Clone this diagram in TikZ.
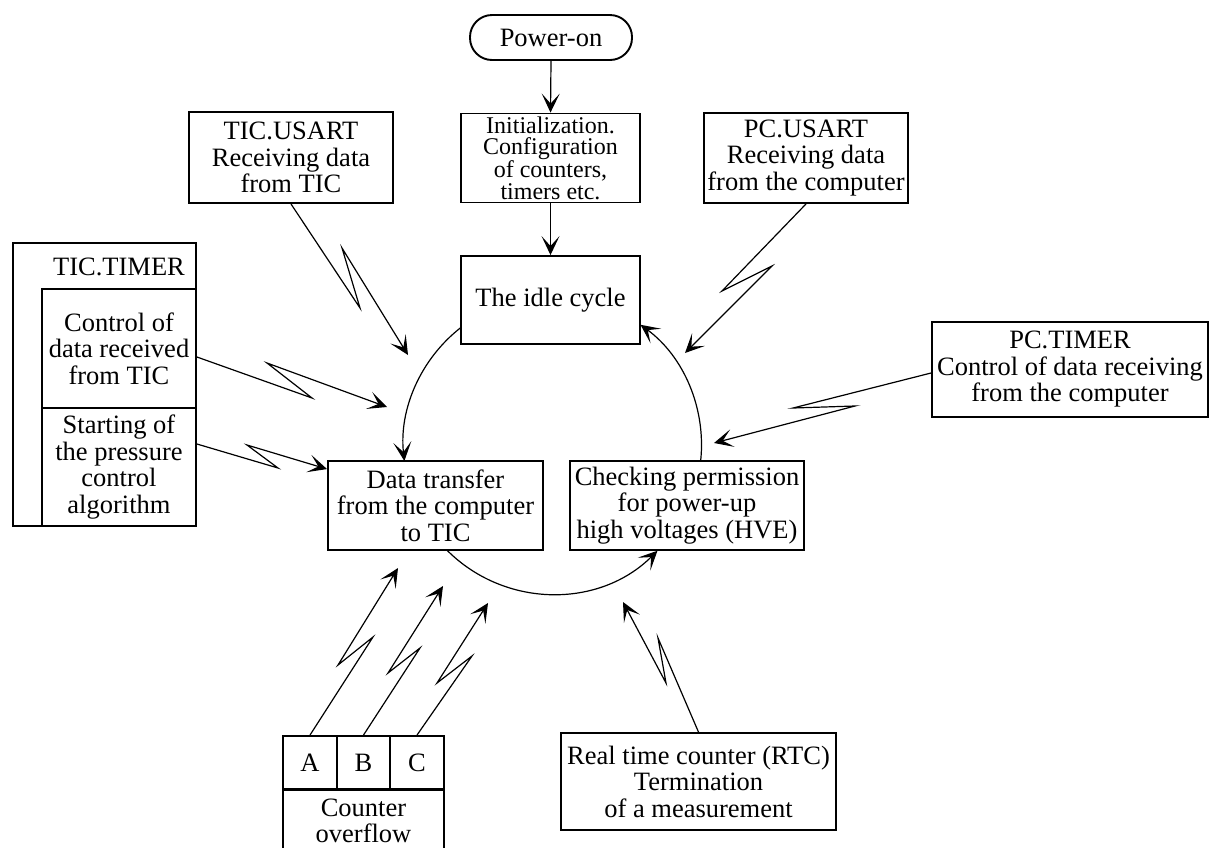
\documentclass[tikz,border=0pt]{standalone}
\usepackage{fontspec}
\setmainfont{Liberation Serif}
\usetikzlibrary{arrows.meta,calc}
\newcommand\diagfont{\fontsize{26.5}{26.5}\selectfont}
\newcommand\tightfont{\fontsize{24}{21.6}\selectfont}
\begin{document}
\begin{tikzpicture}[x=1pt,y=-1pt,
  box/.style={draw, line width=1.9pt, inner sep=0pt, align=center, font=\diagfont},
  lbl/.style={inner sep=0pt, align=center, font=\diagfont},
  con/.style={line width=1.2pt, -{Stealth[length=19pt,width=18pt,inset=10pt]}},
  zz/.style={line width=1.2pt, line join=miter, -{Stealth[length=19pt,width=18pt,inset=10pt]}}]
\useasboundingbox (0,0) rectangle (1209,847);
\clip (0,0) rectangle (1209,847);

% main boxes
\node[box, rounded corners=22pt, minimum width=162pt, minimum height=45pt] (poweron) at (551,37.5) {Power-on};
\node[box, font=\tightfont, minimum width=179pt, minimum height=89pt] (init) at (550.5,158) {Initialization.\\Configuration\\of counters,\\timers etc.};
\node[box, minimum width=179pt, minimum height=88pt] (idle) at (550.5,300) {The idle cycle};
\node[box, minimum width=204pt, minimum height=91pt] (ticusart) at (291,157.5) {TIC.USART\\Receiving data\\from TIC};
\node[box, minimum width=204pt, minimum height=90pt] (pcusart) at (806,158) {PC.USART\\Receiving data\\from the computer};
\node[box, minimum width=276pt, minimum height=95pt] (pctimer) at (1070,369.5) {PC.TIMER\\Control of data receiving\\from the computer};
\node[box, minimum width=215pt, minimum height=89pt] (data) at (435.5,505.5) {Data transfer\\from the computer\\to TIC};
\node[box, minimum width=234pt, minimum height=89pt] (check) at (687,505.5) {Checking permission\\for power-up\\high voltages (HVE)};
\node[box, minimum width=275pt, minimum height=97pt] (rtc) at (698.5,781.5) {Real time counter (RTC)\\Termination\\of a measurement};

% TIC.TIMER group
\node[box, minimum width=183pt, minimum height=283pt] (tictimer) at (104.5,384.5) {};
\node[lbl] (tictimertitle) at (119,267) {TIC.TIMER};
\node[box, minimum width=154pt, minimum height=119pt] (ctrl) at (119,348.5) {Control of\\data received\\from TIC};
\node[box, minimum width=154pt, minimum height=118pt] (startb) at (119,467) {Starting of\\the pressure\\control\\algorithm};

% Counter overflow group
\node[box, minimum width=54pt, minimum height=53pt] (cA) at (310,762.5) {A};
\node[box, minimum width=53pt, minimum height=53pt] (cB) at (363.5,762.5) {B};
\node[box, minimum width=54pt, minimum height=53pt] (cC) at (417,762.5) {C};
\node[box, minimum width=161pt, minimum height=110pt, anchor=north] (overflow) at (363.5,789) {};
\node[lbl] (overflowtext) at (363.5,821) {Counter\\overflow};

% straight arrows
\draw[con] (poweron.south) -- (init.north);
\draw[con] (init.south) -- (idle.north);

% cycle arcs
\coordinate (ctr) at (552.5,445);
\draw[con] (ctr) ++(232.36:149) arc[start angle=232.36, end angle=173.83, radius=149];
\draw[con] (ctr) ++(134.8:149) arc[start angle=134.8, end angle=45.2, radius=149];
\draw[con] (ctr) ++(6.17:149) arc[start angle=6.17, end angle=-53.8, radius=149];

% zigzag (interrupt) arrows
\coordinate (t1) at (408,355);
\draw[zz] (ticusart.south) -- (360,308) -- (342,248) -- (t1);
\coordinate (t2) at (685,353);
\draw[zz] (pcusart.south) -- (722,291) -- (772,266) -- (t2);
\coordinate (t3) at (714,443);
\draw[zz] ($(pctimer.west)+(0,3.5)$) -- (793,408) -- (855,406) -- (t3);
\coordinate (t4) at (387,407);
\draw[zz] ($(ctrl.east)+(0,8.5)$) -- (312,398) -- (267,363) -- (t4);
\draw[zz] ($(startb.east)+(0,-23)$) -- (278,468) -- (247,445) -- ($(data.north west)+(0,9)$);
\coordinate (t5) at (398,568);
\draw[zz] (cA.north) -- (373,637) -- (338,665) -- (t5);
\coordinate (t6) at (443,586);
\draw[zz] (cB.north) -- (420,648) -- (388,673) -- (t6);
\coordinate (t7) at (488,603);
\draw[zz] (cC.north) -- (472,656) -- (437,683) -- (t7);
\coordinate (t8) at (623,602);
\draw[zz] (rtc.north) -- (658,638) -- (666,683) -- (t8);
\end{tikzpicture}
\end{document}
